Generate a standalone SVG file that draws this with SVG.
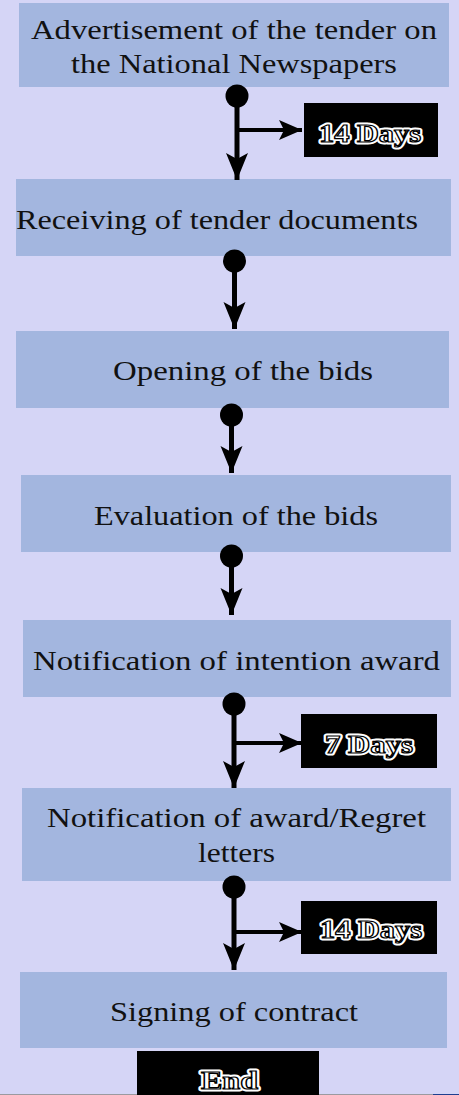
<svg xmlns="http://www.w3.org/2000/svg" width="459" height="1095" viewBox="0 0 459 1095">
<style>
.bg{fill:#d5d5f6}
.box{fill:#a3b6df}
.t{font-family:"Liberation Serif","Times New Roman",serif;font-size:28px;fill:#111}
.lab{fill:#000}
.halo{font-family:"Liberation Serif","Times New Roman",serif;font-weight:bold;font-size:25px;fill:#fff;stroke:#fff;stroke-width:5;stroke-linejoin:round}
.ol{font-family:"Liberation Serif","Times New Roman",serif;font-weight:bold;font-size:25px;fill:#fff;stroke:#000;stroke-width:1.2}
.ln{stroke:#000;stroke-width:5;fill:none}
.br{stroke:#000;stroke-width:4;fill:none}
.dot{fill:#000}
</style>
<defs>
<marker id="ah" markerUnits="userSpaceOnUse" markerWidth="28" markerHeight="24" refX="27" refY="11" orient="auto">
<path d="M0,0 L27,11 L0,22 L6,11 z" fill="#000"/>
</marker>
<marker id="ahs" markerUnits="userSpaceOnUse" markerWidth="24" markerHeight="22" refX="23" refY="10" orient="auto">
<path d="M0,0 L23,10 L0,20 L5,10 z" fill="#000"/>
</marker>
</defs>
<rect class="bg" x="0" y="0" width="459" height="1095"/>
<rect x="0" y="1094" width="433" height="1" fill="#9a9aa0"/>
<rect x="433" y="1094" width="26" height="1" fill="#1f3f8f"/>

<g id="n1">
<rect class="box" x="19" y="3" width="430" height="84"/>
<text class="t" x="31" y="39" textLength="406" lengthAdjust="spacingAndGlyphs">Advertisement of the tender on</text>
<text class="t" x="71" y="73" textLength="326" lengthAdjust="spacingAndGlyphs">the National Newspapers</text>
</g>
<g id="n2">
<rect class="box" x="16" y="179" width="435" height="77"/>
<text class="t" x="16" y="229" textLength="402" lengthAdjust="spacingAndGlyphs">Receiving of tender documents</text>
</g>
<g id="n3">
<rect class="box" x="16" y="331" width="433" height="77"/>
<text class="t" x="113" y="380" textLength="260" lengthAdjust="spacingAndGlyphs">Opening of the bids</text>
</g>
<g id="n4">
<rect class="box" x="21" y="475" width="430" height="77"/>
<text class="t" x="94" y="525" textLength="284" lengthAdjust="spacingAndGlyphs">Evaluation of the bids</text>
</g>
<g id="n5">
<rect class="box" x="23" y="620" width="428" height="77"/>
<text class="t" x="33" y="670" textLength="407" lengthAdjust="spacingAndGlyphs">Notification of intention award</text>
</g>
<g id="n6">
<rect class="box" x="22" y="788" width="429" height="93"/>
<text class="t" x="47" y="827" textLength="379" lengthAdjust="spacingAndGlyphs">Notification of award/Regret</text>
<text class="t" x="198" y="862" textLength="77" lengthAdjust="spacingAndGlyphs">letters</text>
</g>
<g id="n7">
<rect class="box" x="20" y="972" width="427" height="76"/>
<text class="t" x="110" y="1021" textLength="248" lengthAdjust="spacingAndGlyphs">Signing of contract</text>
</g>

<g id="connectors">
<circle class="dot" cx="237" cy="96" r="11.5"/>
<line class="ln" x1="237" y1="100" x2="237" y2="180" marker-end="url(#ah)"/>
<line class="br" x1="239" y1="130" x2="302" y2="130" marker-end="url(#ahs)"/>

<circle class="dot" cx="234.5" cy="261" r="11.5"/>
<line class="ln" x1="234.5" y1="265" x2="234.5" y2="329" marker-end="url(#ah)"/>

<circle class="dot" cx="231.5" cy="415" r="11.5"/>
<line class="ln" x1="231.5" y1="419" x2="231.5" y2="473" marker-end="url(#ah)"/>

<circle class="dot" cx="231.5" cy="556" r="11.5"/>
<line class="ln" x1="231.5" y1="560" x2="231.5" y2="615" marker-end="url(#ah)"/>

<circle class="dot" cx="234" cy="704" r="11.5"/>
<line class="ln" x1="234" y1="708" x2="234" y2="788" marker-end="url(#ah)"/>
<line class="br" x1="236" y1="743" x2="302" y2="743" marker-end="url(#ahs)"/>

<circle class="dot" cx="234" cy="887" r="11.5"/>
<line class="ln" x1="234" y1="891" x2="234" y2="970" marker-end="url(#ah)"/>
<line class="br" x1="236" y1="932" x2="302" y2="932" marker-end="url(#ahs)"/>
</g>

<g id="d1">
<rect class="lab" x="304" y="103" width="134" height="54"/>
<text class="halo" x="319" y="142" textLength="102" lengthAdjust="spacingAndGlyphs">14 Days</text>
<text class="ol" x="319" y="142" textLength="102" lengthAdjust="spacingAndGlyphs">14 Days</text>
</g>
<g id="d2">
<rect class="lab" x="301" y="714" width="136" height="54"/>
<text class="halo" x="325" y="753" textLength="88" lengthAdjust="spacingAndGlyphs">7 Days</text>
<text class="ol" x="325" y="753" textLength="88" lengthAdjust="spacingAndGlyphs">7 Days</text>
</g>
<g id="d3">
<rect class="lab" x="301" y="901" width="136" height="53"/>
<text class="halo" x="320" y="938" textLength="102" lengthAdjust="spacingAndGlyphs">14 Days</text>
<text class="ol" x="320" y="938" textLength="102" lengthAdjust="spacingAndGlyphs">14 Days</text>
</g>
<g id="end">
<rect class="lab" x="137" y="1051" width="182" height="44"/>
<text class="halo" x="201" y="1089" textLength="57" lengthAdjust="spacingAndGlyphs">End</text>
<text class="ol" x="201" y="1089" textLength="57" lengthAdjust="spacingAndGlyphs">End</text>
</g>
</svg>
